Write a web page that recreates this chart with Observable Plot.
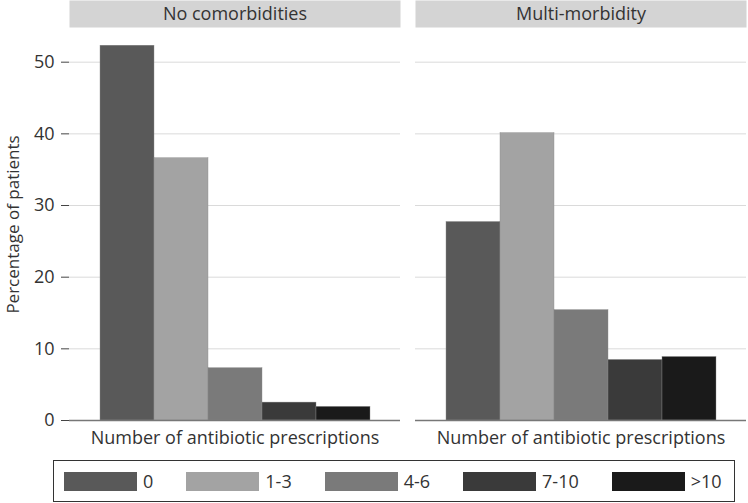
<!DOCTYPE html>
<html>
<head>
<meta charset="utf-8">
<script src="https://cdn.jsdelivr.net/npm/d3@7"></script>
<script src="https://cdn.jsdelivr.net/npm/@observablehq/plot@0.6"></script>
<style>
  body { margin: 0; background: #fff; font-family: "Open Sans", sans-serif; color: #333; }
  #legend { box-sizing: border-box; margin-left: 53px; margin-top: 4px; width: 682px; height: 42px;
    border: 1px solid #333; display: flex; align-items: center; padding-left: 10px; gap: 33px; font-size: 18px; }
  .item { display: flex; align-items: center; }
  .sw { width: 73px; height: 19px; margin-right: 6px; }
</style>
</head>
<body>
<div id="chart"></div>
<div id="legend"></div>
<script>
const panels = ["No comorbidities", "Multi-morbidity"];
const categories = ["0", "1-3", "4-6", "7-10", ">10"];
const noComorbidities = [52.3, 36.6, 7.3, 2.5, 1.9];
const multiMorbidity = [27.7, 40.1, 15.4, 8.45, 8.86];
const colors = ["#595959", "#a3a3a3", "#7a7a7a", "#3a3a3a", "#1a1a1a"];
const yTicks = [0, 10, 20, 30, 40, 50];
const yLabel = "Percentage of patients";
const xLabel = "Number of antibiotic prescriptions";

const rows = [];
categories.forEach((c, i) => {
  rows.push({panel: panels[0], cat: c, value: noComorbidities[i]});
  rows.push({panel: panels[1], cat: c, value: multiMorbidity[i]});
});

const chart = Plot.plot({
  width: 748, height: 456,
  marginLeft: 68, marginRight: 1, marginTop: 28, marginBottom: 36,
  style: {fontFamily: "'Open Sans', sans-serif", fontSize: "18px", color: "#333", background: "#fff"},
  fx: {domain: panels, padding: 0.0432, axis: null},
  x: {domain: categories, padding: 0, insetLeft: 29, insetRight: 29, axis: null},
  y: {domain: [0, 54.7], axis: null},
  color: {domain: categories, range: colors},
  marks: [
    Plot.frame({fill: "#d4d4d4", stroke: null, insetTop: -28, insetBottom: 393}),
    Plot.text(panels, {fx: d => d, text: d => d, frameAnchor: "top", dy: -14, lineAnchor: "middle", fontSize: 18, fill: "#333"}),
    Plot.gridY(yTicks.slice(1), {stroke: "#dadada", strokeOpacity: 1}),
    Plot.barY(rows, {fx: "panel", x: "cat", y: "value", fill: "cat", stroke: "#8a8a8a", strokeWidth: 0.4}),
    Plot.ruleY([0], {stroke: "#777", strokeWidth: 1.5}),
    Plot.axisY({ticks: yTicks, tickSize: 8, tickPadding: 7, line: true, stroke: "#444",
      label: null, fontSize: 18}),
    Plot.text([yLabel], {fx: () => panels[0], text: d => d, frameAnchor: "left", textAnchor: "middle", lineAnchor: "middle", dx: -56, rotate: -90, fontSize: 17, fill: "#333"}),
    Plot.text(panels, {fx: d => d, text: () => xLabel, frameAnchor: "bottom", dy: 18, lineAnchor: "middle", fontSize: 18, fill: "#333"})
  ]
});
document.getElementById("chart").appendChild(chart);

const legend = document.getElementById("legend");
categories.forEach((c, i) => {
  const item = document.createElement("div");
  item.className = "item";
  const sw = document.createElement("div");
  sw.className = "sw";
  sw.style.background = colors[i];
  const t = document.createElement("span");
  t.textContent = c;
  item.appendChild(sw); item.appendChild(t);
  legend.appendChild(item);
});
</script>
</body>
</html>
